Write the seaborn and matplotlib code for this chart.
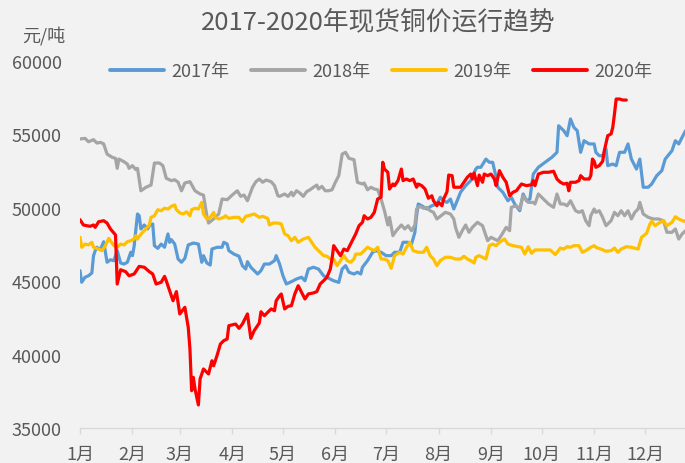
import matplotlib
matplotlib.use("Agg")
import matplotlib.pyplot as plt
import seaborn as sns
import pandas as pd
from matplotlib.lines import Line2D

# ---------------- data (day of year, price 元/吨) ----------------
years = ["2017年", "2018年", "2019年", "2020年"]
colors = ["#5B9BD5", "#A5A5A5", "#FFC000", "#FF0000"]
month_labels = ["1月", "2月", "3月", "4月", "5月", "6月", "7月", "8月", "9月", "10月", "11月", "12月"]
month_start_days = [0, 31, 59, 90, 120, 151, 181, 212, 243, 273, 304, 334]
y_ticks = [35000, 40000, 45000, 50000, 55000, 60000]

day_2017 = [0, 1, 3, 5, 7, 8, 9, 10, 12, 14, 16, 18, 20, 22, 24, 26, 28, 30, 31, 32, 34, 35, 36, 38, 40, 41, 43, 44,
            46, 48, 50, 52, 53, 54, 56, 58, 60, 62, 64, 67, 70, 72, 73, 75, 77, 78, 81, 84, 85, 87, 88, 91, 94, 96,
            98, 99, 101, 103, 105, 107, 109, 112, 115, 116, 118, 120, 122, 125, 128, 131, 133, 135, 138, 141, 144,
            147, 150, 153, 155, 157, 159, 162, 164, 166, 167, 170, 173, 175, 178, 181, 184, 186, 189, 191, 194, 196,
            198, 199, 200, 202, 205, 208, 211, 213, 215, 217, 219, 221, 223, 225, 228, 231, 234, 235, 237, 240, 242,
            244, 246, 247, 250, 253, 255, 257, 260, 262, 264, 266, 268, 271, 275, 279, 282, 283, 286, 288, 290, 292,
            294, 296, 298, 301, 304, 305, 307, 309, 311, 312, 315, 317, 319, 322, 324, 326, 329, 331, 333, 336, 338,
            341, 344, 346, 350, 352, 354, 356, 358]
price_2017 = [45720, 44930, 45270, 45370, 45560, 46740, 47080, 47310, 47150, 47690, 46290, 46460, 46400, 47080, 46240,
              46170, 46290, 46970, 46740, 47380, 49580, 49460, 48560, 48830, 48560, 48780, 48900, 47420, 47240, 47530,
              47310, 48220, 47650, 47830, 47530, 46510, 46290, 46560, 47470, 47600, 47530, 46290, 46740, 46240, 46100,
              47190, 47310, 47310, 47650, 47530, 47080, 46850, 46700, 46060, 45830, 46330, 45950, 45720, 45490, 45720,
              46170, 46170, 46400, 46740, 46170, 45370, 44810, 44970, 45150, 45270, 45030, 45830, 45950, 45830, 45370,
              45200, 45030, 44920, 45830, 46060, 45610, 45490, 45610, 45490, 45950, 46400, 46970, 47080, 46970, 46740,
              46740, 46970, 46970, 47650, 47650, 47530, 48330, 49460, 50260, 50140, 49920, 50140, 50260, 50720, 50480,
              50370, 50600, 49920, 50480, 51060, 51510, 51850, 52640, 52760, 52760, 53320, 53100, 53100, 52080, 51400,
              51060, 50480, 50720, 50260, 49800, 50940, 50480, 50600, 52300, 52760, 53100, 53440, 53780, 55590, 55250,
              54910, 56050, 55480, 55250, 53780, 54570, 54350, 54350, 53780, 53550, 53550, 54010, 52870, 52980, 52870,
              53780, 53780, 54350, 53320, 52640, 53320, 51400, 51400, 51620, 52190, 52530, 53320, 53890, 54570, 54350,
              54800, 55250]

day_2018 = [0, 3, 5, 8, 10, 12, 14, 16, 19, 21, 22, 23, 26, 28, 29, 31, 33, 34, 36, 39, 42, 44, 47, 49, 51, 54, 56,
            58, 60, 62, 65, 68, 71, 73, 75, 76, 79, 82, 84, 87, 90, 93, 95, 97, 99, 101, 102, 104, 106, 108, 110, 113,
            115, 117, 118, 121, 123, 125, 126, 128, 130, 132, 134, 136, 138, 140, 141, 143, 145, 147, 149, 151, 153,
            155, 157, 159, 162, 164, 167, 168, 170, 172, 174, 176, 178, 180, 182, 183, 185, 187, 190, 192, 194, 196,
            198, 199, 201, 203, 205, 207, 209, 211, 213, 216, 219, 221, 222, 224, 226, 228, 230, 232, 234, 235, 238,
            241, 243, 245, 247, 249, 252, 254, 255, 258, 260, 262, 265, 268, 269, 271, 274, 277, 280, 282, 284, 286,
            288, 290, 293, 295, 297, 299, 301, 302, 304, 305, 307, 309, 311, 314, 316, 318, 320, 322, 324, 326, 328,
            330, 331, 333, 336, 339, 342, 345, 347, 350, 352, 354, 356, 358]
price_2018 = [54690, 54730, 54500, 54640, 54410, 54460, 54350, 53660, 53440, 53370, 52690, 53320, 53140, 52980, 52690,
              52870, 52600, 52690, 51160, 51400, 51550, 53050, 53050, 52870, 52010, 51850, 51910, 51740, 51160, 51690,
              51780, 51160, 50940, 50870, 49460, 48960, 49240, 49580, 50600, 50550, 50870, 51160, 50780, 50870, 50480,
              51100, 51400, 51780, 51960, 51740, 51890, 51780, 51510, 50820, 50780, 50940, 50780, 51060, 50820, 51160,
              51010, 50780, 51100, 51230, 51400, 51550, 51280, 51460, 51160, 51160, 51230, 51740, 52190, 53660, 53780,
              53370, 53280, 51740, 51620, 51690, 51230, 51400, 51280, 51230, 50600, 49800, 48830, 49350, 48100, 48440,
              48830, 48560, 48780, 48440, 48830, 49920, 50100, 49970, 50030, 49800, 49690, 49240, 49420, 49690, 49580,
              49240, 48670, 47990, 48440, 48830, 48330, 48670, 48900, 49010, 48780, 47760, 47990, 47870, 47760, 48100,
              48670, 48440, 50030, 50140, 49920, 50820, 50370, 50370, 50260, 50940, 50600, 50260, 50030, 50940, 50260,
              50260, 50140, 50480, 49800, 49690, 49800, 49120, 48780, 49460, 49920, 49690, 49800, 49350, 48780, 49120,
              49690, 49460, 49800, 49460, 49800, 49240, 49690, 49920, 50370, 49580, 49350, 49240, 49240, 49120, 48330,
              48330, 48560, 47870, 48220, 48440]

day_2019 = [0, 1, 3, 5, 7, 8, 11, 13, 15, 17, 18, 20, 22, 24, 26, 28, 30, 32, 33, 34, 35, 37, 39, 41, 42, 44, 46, 48,
            50, 52, 54, 56, 57, 59, 61, 63, 65, 66, 68, 70, 72, 73, 75, 77, 79, 80, 82, 85, 86, 88, 91, 94, 96, 98,
            101, 103, 106, 108, 111, 112, 114, 117, 119, 121, 123, 125, 127, 129, 132, 135, 137, 139, 142, 144, 146,
            148, 150, 152, 154, 156, 158, 160, 162, 163, 166, 167, 170, 172, 174, 176, 178, 180, 182, 184, 186, 189,
            191, 193, 195, 197, 200, 203, 205, 207, 209, 211, 213, 216, 219, 222, 225, 227, 229, 231, 233, 234, 236,
            240, 242, 244, 246, 248, 251, 253, 256, 259, 261, 263, 265, 267, 269, 272, 275, 278, 281, 284, 286, 288,
            290, 292, 295, 297, 299, 302, 304, 305, 308, 311, 314, 316, 318, 320, 323, 326, 330, 332, 335, 337, 338,
            340, 342, 345, 347, 350, 352, 354, 357, 358]
price_2019 = [47990, 47310, 47530, 47470, 47650, 47310, 47190, 47080, 47420, 47920, 47760, 47420, 47310, 47530, 47470,
              47690, 47760, 47870, 48100, 47870, 48060, 48330, 48560, 48830, 49350, 49460, 49870, 49800, 49970, 49920,
              50100, 50190, 49870, 49650, 49580, 49730, 49460, 49870, 49970, 49920, 50370, 49580, 49240, 49350, 49690,
              49350, 49240, 49350, 49460, 49280, 49350, 49350, 49050, 49420, 49510, 49580, 49350, 49420, 49280, 48830,
              48960, 48960, 48900, 48220, 48100, 47760, 47990, 47650, 47870, 47990, 47650, 47310, 46970, 46740, 46700,
              46510, 46510, 46060, 46400, 46740, 46400, 46290, 46510, 46850, 46850, 46970, 47310, 47190, 47080, 47310,
              46510, 46510, 46400, 45880, 46740, 46970, 46850, 47310, 47650, 47080, 46970, 46970, 47310, 46740, 46510,
              46060, 46400, 46630, 46630, 46510, 46510, 46700, 46510, 46400, 46240, 46630, 46740, 46510, 47420, 47530,
              47420, 47650, 47870, 47530, 47420, 47350, 47310, 46850, 47350, 46900, 47130, 47130, 47130, 47130, 46810,
              47260, 47190, 47350, 47310, 47420, 47420, 46970, 47080, 47310, 47420, 47310, 47190, 47040, 47080, 47260,
              46970, 47190, 47350, 47310, 47190, 47990, 48260, 48900, 49080, 48780, 48940, 49120, 48780, 49010, 49390,
              49240, 49080, 49120]

day_2020 = [0, 2, 4, 6, 8, 9, 11, 14, 16, 18, 20, 21, 22, 24, 27, 29, 32, 35, 38, 41, 43, 45, 48, 50, 51, 53, 55, 57,
            59, 62, 64, 65, 66, 67, 68, 70, 71, 73, 76, 78, 79, 81, 83, 85, 87, 88, 92, 94, 96, 99, 101, 103, 106, 107,
            109, 111, 113, 115, 116, 118, 119, 121, 123, 125, 127, 129, 131, 133, 135, 138, 140, 142, 144, 146, 148,
            149, 150, 152, 154, 156, 158, 160, 163, 165, 167, 168, 170, 172, 174, 176, 178, 179, 180, 182, 183, 185,
            186, 188, 190, 191, 193, 195, 197, 199, 200, 202, 204, 206, 208, 209, 211, 212, 214, 215, 217, 218, 220,
            221, 223, 225, 227, 229, 231, 232, 233, 235, 236, 238, 239, 241, 243, 245, 246, 248, 250, 252, 254, 256,
            258, 261, 264, 267, 268, 269, 271, 274, 277, 280, 282, 284, 286, 288, 289, 290, 293, 295, 296, 298, 301,
            302, 303, 304, 305, 307, 309, 310, 312, 314, 315, 316, 317, 319, 321, 323]
price_2020 = [49190, 48830, 48780, 48740, 48830, 48670, 49050, 49120, 48960, 48560, 48280, 48150, 44810, 45780, 45650,
              45370, 45490, 46010, 45950, 45650, 45490, 44810, 44930, 45330, 45030, 44350, 43670, 44290, 42770, 43220,
              41860, 40380, 37540, 38450, 37660, 36570, 38340, 39020, 38680, 39580, 39240, 39930, 40720, 40950, 41060,
              41970, 42080, 41790, 42080, 42770, 41110, 41630, 42150, 42920, 42650, 42880, 43110, 42990, 43670, 44010,
              44130, 43110, 43290, 43330, 44130, 44690, 44240, 43790, 44130, 44200, 44290, 44810, 45030, 45270, 45830,
              46510, 47420, 47080, 46740, 47190, 47080, 47530, 48220, 48780, 49010, 49460, 49240, 49350, 49690, 50600,
              50720, 53100, 52640, 52420, 51280, 51620, 51510, 51850, 52640, 51850, 51960, 51850, 51960, 51400, 51620,
              51510, 51280, 50650, 50820, 50480, 50140, 50370, 50140, 50600, 51100, 52230, 52190, 51400, 51400, 51400,
              51740, 52080, 52300, 51960, 52370, 51510, 52230, 51740, 52300, 52190, 52300, 51960, 51510, 52530, 52080,
              51740, 50820, 51060, 51160, 51620, 51510, 51570, 51850, 51510, 52300, 52420, 52420, 52490, 51960, 51740,
              51620, 51670, 51160, 51740, 51740, 51850, 52190, 51960, 51960, 52190, 53320, 53170, 52760, 52870, 53170,
              53890, 54910, 55030, 55480, 56390, 57410, 57410, 57340, 57340]

# ---------------- build long table ----------------
frames = []
for yr, d, p in zip(years, [day_2017, day_2018, day_2019, day_2020],
                    [price_2017, price_2018, price_2019, price_2020]):
    frames.append(pd.DataFrame({"day": d, "price": p, "year": yr}))
df = pd.concat(frames, ignore_index=True)

# ---------------- style ----------------
sns.set_theme(style="white")
plt.rcParams["font.family"] = ["Noto Sans CJK SC", "DejaVu Sans"]
bg = "#F2F2F2"
txt = "#595959"

fig = plt.figure(figsize=(6.85, 4.64), dpi=100, facecolor=bg)
ax = fig.add_axes([80 / 685, 35 / 464, 605 / 685, (429 - 62) / 464])
ax.set_facecolor(bg)

sns.lineplot(data=df, x="day", y="price", hue="year", hue_order=years,
             palette=dict(zip(years, colors)), estimator=None, sort=False,
             linewidth=2.3, legend=False, ax=ax)

ax.set_xlim(0, 357.7)
ax.set_ylim(35000, 60000)
ax.set_xticks(month_start_days)
ax.set_xticklabels(month_labels)
ax.set_yticks(y_ticks)
ax.set_yticklabels([str(v) for v in y_ticks])
ax.set_xlabel("")
ax.set_ylabel("")

for s in ["left", "right", "top"]:
    ax.spines[s].set_visible(False)
ax.spines["bottom"].set_color("#D9D9D9")
ax.spines["bottom"].set_linewidth(1.0)

ax.tick_params(axis="x", direction="out", length=4, width=1, color="#D9D9D9",
               pad=8, labelsize=13, labelcolor=txt, bottom=True)
ax.tick_params(axis="y", length=0, pad=13, labelsize=13, labelcolor=txt, left=True)
ax.grid(False)

# title & unit label
fig.text(0.552, 1 - 22 / 464, "2017-2020年现货铜价运行趋势", ha="center", va="center",
         fontsize=18.5, color=txt)
fig.text(44 / 685, 1 - 36 / 464, "元/吨", ha="center", va="center", fontsize=13, color=txt)

# legend
handles = [Line2D([0], [0], color=c, lw=2.8) for c in colors]
fig.legend(handles, years, loc="center", bbox_to_anchor=(381 / 685, 1 - 72 / 464), ncol=4,
           frameon=False, fontsize=13, handlelength=3.0, handletextpad=0.4,
           columnspacing=1.2, labelcolor=txt)

fig.savefig("out.png", dpi=100, facecolor=bg)
